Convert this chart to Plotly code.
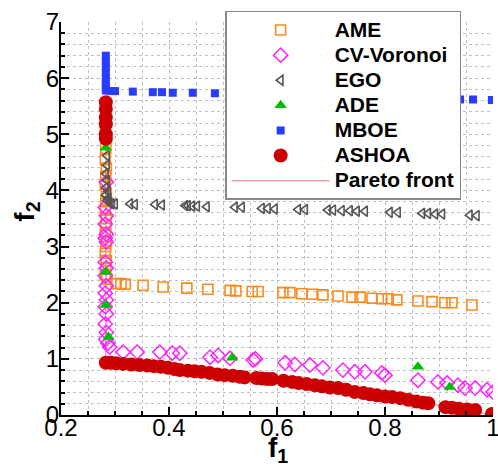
import plotly.graph_objects as go

# ---------------- data ----------------
x_tickvals = [0.2, 0.4, 0.6, 0.8, 1.0]
x_ticktext = ["0.2", "0.4", "0.6", "0.8", "1"]
y_tickvals = [0, 1, 2, 3, 4, 5, 6, 7]
y_ticktext = ["0", "1", "2", "3", "4", "5", "6", "7"]

ame_f1 = [0.283, 0.282, 0.284, 0.283, 0.282, 0.284, 0.283, 0.282, 0.284, 0.283, 0.282,
          0.284, 0.283, 0.282, 0.284, 0.283, 0.282, 0.284, 0.283, 0.282, 0.285,
          0.302, 0.311, 0.319, 0.352, 0.389, 0.433, 0.472, 0.513, 0.524, 0.554, 0.565,
          0.611, 0.624, 0.646, 0.665, 0.685, 0.713, 0.739, 0.754, 0.776, 0.794, 0.806,
          0.822, 0.861, 0.887, 0.911, 0.924, 0.961]
ame_f2 = [5.22, 5.15, 4.95, 4.75, 4.55, 4.40, 4.25, 4.10, 3.95, 3.80, 3.65,
          3.50, 3.38, 3.25, 3.10, 3.00, 2.88, 2.75, 2.62, 2.50, 2.42,
          2.34, 2.34, 2.33, 2.31, 2.28, 2.26, 2.24, 2.22, 2.21, 2.20, 2.20,
          2.18, 2.18, 2.16, 2.15, 2.14, 2.12, 2.10, 2.10, 2.08, 2.07, 2.07,
          2.05, 2.03, 2.02, 2.00, 2.00, 1.96]

cv_f1 = [0.284, 0.282, 0.284, 0.282, 0.284, 0.282, 0.284, 0.282, 0.284, 0.282,
         0.284, 0.282, 0.284, 0.282, 0.284, 0.282, 0.284, 0.283, 0.287, 0.290,
         0.315, 0.341, 0.383, 0.406, 0.420, 0.476, 0.491, 0.513, 0.556, 0.560,
         0.615, 0.633, 0.661, 0.685, 0.722, 0.744, 0.763, 0.794, 0.800, 0.861,
         0.898, 0.915, 0.935, 0.948, 0.967, 0.989, 1.000]
cv_f2 = [4.15, 3.70, 3.55, 3.40, 3.22, 3.15, 3.08, 2.72, 2.62, 2.48,
         2.30, 2.17, 2.05, 1.93, 1.80, 1.62, 1.47, 1.35, 1.28, 1.21,
         1.12, 1.12, 1.12, 1.10, 1.10, 1.03, 1.06, 1.01, 0.98, 1.00,
         0.93, 0.90, 0.89, 0.84, 0.80, 0.77, 0.77, 0.75, 0.71, 0.62,
         0.59, 0.57, 0.53, 0.48, 0.48, 0.45, 0.41]

ego_f1 = [0.285, 0.285, 0.283, 0.285, 0.283, 0.287, 0.283, 0.288, 0.285, 0.290, 0.294,
          0.300, 0.328, 0.337, 0.374, 0.387, 0.430, 0.435, 0.443, 0.452, 0.470,
          0.522, 0.535, 0.572, 0.583, 0.596, 0.639, 0.652, 0.694, 0.704, 0.720,
          0.735, 0.748, 0.763, 0.809, 0.824, 0.869, 0.880, 0.893, 0.906, 0.957, 0.970]
ego_f2 = [4.62, 4.45, 4.30, 4.18, 4.05, 3.98, 3.92, 3.86, 3.82, 3.78, 3.76,
          3.76, 3.76, 3.75, 3.75, 3.74, 3.73, 3.73, 3.72, 3.72, 3.71,
          3.70, 3.70, 3.68, 3.68, 3.67, 3.66, 3.66, 3.65, 3.65, 3.64,
          3.64, 3.63, 3.63, 3.61, 3.61, 3.59, 3.59, 3.58, 3.58, 3.56, 3.55]

ade_f1 = [0.283, 0.283, 0.283, 0.288, 0.517, 0.861, 0.920]
ade_f2 = [4.76, 2.55, 1.96, 1.39, 1.02, 0.86, 0.50]

mboe_f1 = [0.283, 0.283, 0.283, 0.283, 0.283, 0.283, 0.283, 0.283, 0.292, 0.300,
           0.333, 0.370, 0.387, 0.407, 0.444, 0.485, 0.939, 0.963, 0.998]
mboe_f2 = [6.40, 6.30, 6.20, 6.10, 6.00, 5.92, 5.85, 5.78, 5.77, 5.77,
           5.76, 5.75, 5.75, 5.74, 5.74, 5.73, 5.62, 5.62, 5.61]

ashoa_f1 = [0.283, 0.283, 0.283, 0.283, 0.283, 0.283,
            0.283, 0.292, 0.302, 0.315, 0.330, 0.345, 0.360, 0.372, 0.385, 0.398,
            0.410, 0.420, 0.435, 0.447, 0.460, 0.475, 0.490, 0.503, 0.518, 0.531,
            0.540, 0.562, 0.572, 0.582, 0.591, 0.612, 0.628, 0.640, 0.655, 0.670,
            0.683, 0.698, 0.713, 0.728, 0.744, 0.760, 0.772, 0.785, 0.800, 0.813,
            0.828, 0.843, 0.858, 0.870, 0.880, 0.912, 0.924, 0.937, 0.952, 0.967,
            0.998]
ashoa_f2 = [5.57, 5.45, 5.30, 5.18, 5.00, 4.92,
            0.93, 0.93, 0.92, 0.91, 0.90, 0.89, 0.88, 0.87, 0.86, 0.84,
            0.82, 0.80, 0.79, 0.78, 0.77, 0.75, 0.72, 0.71, 0.70, 0.68,
            0.67, 0.66, 0.65, 0.64, 0.64, 0.61, 0.59, 0.57, 0.55, 0.53,
            0.51, 0.49, 0.48, 0.45, 0.41, 0.39, 0.37, 0.35, 0.33, 0.32,
            0.30, 0.27, 0.24, 0.22, 0.21, 0.14, 0.13, 0.11, 0.10, 0.09,
            0.02]

pareto_f1 = [0.283, 0.283, 0.420, 0.531, 0.628, 0.713, 0.813, 0.917, 1.000]
pareto_f2 = [5.60, 0.93, 0.80, 0.68, 0.59, 0.48, 0.32, 0.14, 0.00]


def lname(s):
    return '<span style="font-size:21px">' + s + '</span>'


# ---------------- figure ----------------
fig = go.Figure()

fig.add_trace(go.Scatter(x=pareto_f1, y=pareto_f2, mode="lines", name=lname("Pareto front"),
                         line=dict(color="#F4A3A3", width=1.5), legendrank=7))
fig.add_trace(go.Scatter(x=ame_f1, y=ame_f2, mode="markers", name=lname("AME"), legendrank=1,
                         marker=dict(symbol="square-open", size=10, color="#FF8A1C",
                                     line=dict(width=1.6, color="#FF8A1C"))))
fig.add_trace(go.Scatter(x=cv_f1, y=cv_f2, mode="markers", name=lname("CV-Voronoi"), legendrank=2,
                         marker=dict(symbol="diamond-open", size=11, color="#FF22FF",
                                     line=dict(width=1.5, color="#FF22FF"))))
fig.add_trace(go.Scatter(x=ego_f1, y=ego_f2, mode="markers", name=lname("EGO"), legendrank=3,
                         marker=dict(symbol="triangle-left-open", size=9, color="#555555",
                                     line=dict(width=1.6, color="#555555"))))
fig.add_trace(go.Scatter(x=ade_f1, y=ade_f2, mode="markers", name=lname("ADE"), legendrank=4,
                         marker=dict(symbol="triangle-up", size=11, color="#00C000")))
fig.add_trace(go.Scatter(x=mboe_f1, y=mboe_f2, mode="markers", name=lname("MBOE"), legendrank=5,
                         marker=dict(symbol="square", size=8, color="#2A3CFF")))
fig.add_trace(go.Scatter(x=ashoa_f1, y=ashoa_f2, mode="markers", name=lname("ASHOA"), legendrank=6,
                         marker=dict(symbol="circle", size=14, color="#CC0000")))

axis_common = dict(
    showline=True, linecolor="black", linewidth=2,
    ticks="inside", ticklen=8, tickwidth=1.5, tickcolor="black",
    showgrid=True, gridcolor="#BBBBBB", griddash="dot", gridwidth=1,
    zeroline=False, mirror=False, ticklabeloverflow="allow", automargin=False,
    tickfont=dict(family="Arial, Liberation Sans", size=24, color="black"),
)

fig.update_xaxes(range=[0.2, 1.0], tickvals=x_tickvals, ticktext=x_ticktext,
                 ticklabelstandoff=-10,
                 minor=dict(dtick=0.05, tick0=0.2, ticks="inside", ticklen=4, tickcolor="black",
                            showgrid=True, gridcolor="#C0C0C0", griddash="dot"),
                 **axis_common)
fig.update_yaxes(range=[0, 7], tickvals=y_tickvals, ticktext=y_ticktext,
                 ticklabelstandoff=-5,
                 minor=dict(dtick=0.2, tick0=0, ticks="inside", ticklen=4, tickcolor="black",
                            showgrid=True, gridcolor="#C0C0C0", griddash="dot"),
                 **axis_common)

fig.update_layout(
    width=498, height=469,
    margin=dict(l=61, r=5, t=22, b=54, autoexpand=False),
    paper_bgcolor="white", plot_bgcolor="white",
    showlegend=True,
    legend=dict(x=0.38, y=1.028, xanchor="left", yanchor="top",
                bgcolor="white", bordercolor="#888888", borderwidth=1.5,
                font=dict(family="Arial, Liberation Sans", size=17, color="black", weight="bold"),
                itemwidth=98, traceorder="normal"),
    annotations=[
        dict(text="<b>f</b><sub><b>1</b></sub>", xref="paper", yref="paper",
             x=0.502, y=-0.089, xanchor="center", yanchor="middle", showarrow=False,
             font=dict(family="Arial, Liberation Sans", size=28, color="black")),
        dict(text="<b>f</b><sub><b>2</b></sub>", xref="paper", yref="paper",
             x=-0.079, y=0.517, xanchor="center", yanchor="middle", showarrow=False,
             textangle=-90,
             font=dict(family="Arial, Liberation Sans", size=28, color="black")),
    ],
)

fig.write_html("out.html")
